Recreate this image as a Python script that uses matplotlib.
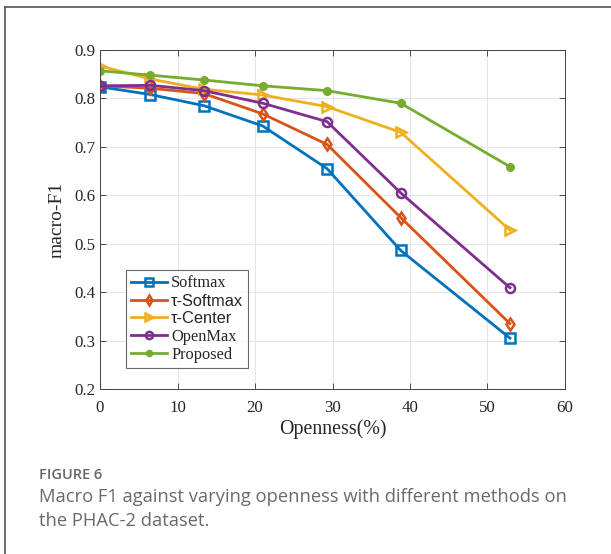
import matplotlib.pyplot as plt
from matplotlib.lines import Line2D

# openness (%) and macro-F1 per method
openness = [0, 6.5, 13.4, 21.0, 29.3, 38.8, 52.9]
softmax = [0.824, 0.808, 0.785, 0.743, 0.655, 0.486, 0.305]
t_softmax = [0.826, 0.821, 0.810, 0.768, 0.705, 0.554, 0.335]
t_center = [0.867, 0.840, 0.819, 0.807, 0.783, 0.730, 0.528]
openmax = [0.826, 0.827, 0.816, 0.790, 0.752, 0.605, 0.409]
proposed = [0.857, 0.848, 0.838, 0.826, 0.816, 0.790, 0.659]

labels = ['Softmax', 'τ-Softmax', 'τ-Center', 'OpenMax', 'Proposed']
colors = ['#0072BD', '#D95319', '#EDB120', '#7E2F8E', '#77AC30']
markers = ['s', 'd', '>', 'o', 'o']

serif = 'Liberation Serif'

fig = plt.figure(figsize=(6.11, 5.54), dpi=100)
ax = fig.add_axes([0.1637, 0.2978, 0.761, 0.612])

series = [softmax, t_softmax, t_center, openmax, proposed]
for ys, lab, c, m in zip(series, labels, colors, markers):
    if lab == 'Proposed':
        ax.plot(openness, ys, color=c, lw=2, marker=m, ms=5.5,
                mfc=c, mec=c, label=lab)
    else:
        ax.plot(openness, ys, color=c, lw=2, marker=m, ms=7.5 if m == '>' else 6.5,
                mfc='none', mew=1.8, mec=c, label=lab)

ax.set_xlim(0, 60)
ax.set_ylim(0.2, 0.9)
ax.set_xticks(range(0, 61, 10))
ax.set_yticks([0.2, 0.3, 0.4, 0.5, 0.6, 0.7, 0.8, 0.9])
ax.set_yticklabels(['0.2', '0.3', '0.4', '0.5', '0.6', '0.7', '0.8', '0.9'])
ax.grid(True, color='#e6e6e6', lw=0.8)
ax.set_axisbelow(True)
ax.tick_params(direction='in', top=True, right=True, length=4, width=0.6,
               color='#333333', labelsize=12.2, labelcolor='#262626')
ax.tick_params(axis='x', pad=8)
for lab in ax.get_xticklabels() + ax.get_yticklabels():
    lab.set_family(serif)
for s in ax.spines.values():
    s.set_color('#444444')
    s.set_linewidth(0.7)

ax.set_xlabel('Openness(%)', family=serif, fontsize=14.4, color='#262626', labelpad=2)
ax.set_ylabel('macro-F1', family=serif, fontsize=14, color='#262626', labelpad=6)

leg = ax.legend(loc='lower left', bbox_to_anchor=(0.056, 0.062), fontsize=11.8,
                frameon=True, fancybox=False, handlelength=2.2, handletextpad=0.25,
                borderpad=0.3, labelspacing=0.15, borderaxespad=0, markerscale=0.8)
leg.get_frame().set_edgecolor('#444444')
leg.get_frame().set_linewidth(0.8)
for t in leg.get_texts():
    if t.get_text().startswith('τ'):
        t.set_family('Liberation Sans')
    else:
        t.set_family(serif)
    t.set_color('#262626')

# card border
fig.add_artist(Line2D([5 / 611, 5 / 611], [0, 1 - 7 / 554], color='#555555', lw=1.2))
fig.add_artist(Line2D([5 / 611, 1], [1 - 7 / 554, 1 - 7 / 554], color='#555555', lw=1.2))

fig.text(39 / 611, 1 - 475 / 554, 'FIGURE 6', family='Open Sans', fontsize=10.5,
         color='#666666', va='center', weight='semibold')
fig.text(39 / 611, 1 - 497 / 554, 'Macro F1 against varying openness with different methods on',
         family='Open Sans', fontsize=13.2, color='#6a6a6a', va='center')
fig.text(39 / 611, 1 - 521 / 554, 'the PHAC-2 dataset.',
         family='Open Sans', fontsize=13.2, color='#6a6a6a', va='center')

fig.savefig('out.png', dpi=100)
